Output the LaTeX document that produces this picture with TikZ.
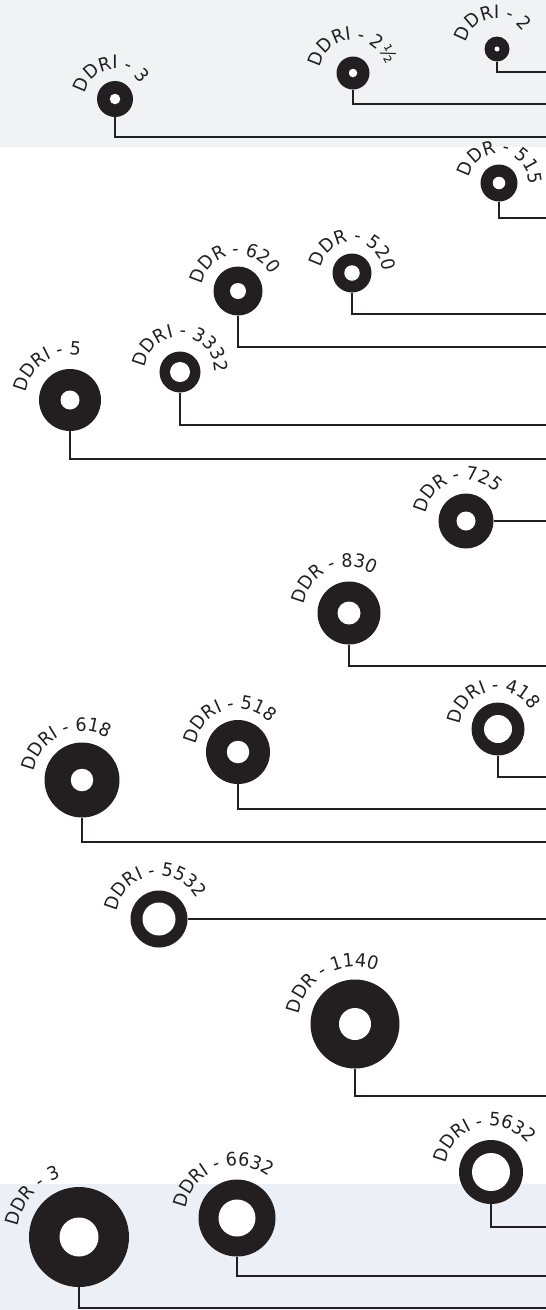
\documentclass[tikz,border=0pt]{standalone}
\usepackage{fontspec}
\newfontfamily\tagfont{DejaVu Sans}[FakeStretch=0.95]
\usetikzlibrary{decorations.text}
\definecolor{ink}{HTML}{231F20}
\definecolor{topband}{HTML}{F1F2F4}
\definecolor{lowband}{HTML}{ECEFF6}

\begin{document}
\begin{tikzpicture}[x=1pt, y=1pt, ring/.style={circle, fill=ink, inner sep=0pt, minimum size=#1}, hole/.style={circle, fill=white, inner sep=0pt, minimum size=#1}, wire/.style={draw=ink, line width=2.1pt}, tag/.style={decorate, decoration={text along path, text color=ink, text={|\tagfont\fontsize{18.5}{18.5}\selectfont|#1}}}]
	% bands
	\fill[topband] (0,0) rectangle (546,-147);
	\fill[lowband] (0,-1184) rectangle (546,-1310);
	\useasboundingbox (0,0) rectangle (546,-1310);
	% rings
	\node[ring=36pt] (ddri3) at (115,-99) {};
	\node[hole=10.5pt] (ddri3h) at (ddri3) {};
	\node[ring=33pt] (ddri2h) at (353,-73) {};
	\node[hole=8.5pt] (ddri2hh) at (ddri2h) {};
	\node[ring=25pt] (ddri2) at (497,-49) {};
	\node[hole=5pt] (ddri2h2) at (ddri2) {};
	\node[ring=37pt] (ddr515) at (499,-183) {};
	\node[hole=12.5pt] (ddr515h) at (ddr515) {};
	\node[ring=39pt] (ddr520) at (352,-273) {};
	\node[hole=15.5pt] (ddr520h) at (ddr520) {};
	\node[ring=49pt] (ddr620) at (238,-291) {};
	\node[hole=16pt] (ddr620h) at (ddr620) {};
	\node[ring=41pt] (ddri3332) at (180,-372) {};
	\node[hole=20pt] (ddri3332h) at (ddri3332) {};
	\node[ring=62pt] (ddri5) at (70,-400) {};
	\node[hole=19pt] (ddri5h) at (ddri5) {};
	\node[ring=55pt] (ddr725) at (466,-521) {};
	\node[hole=19pt] (ddr725h) at (ddr725) {};
	\node[ring=63pt] (ddr830) at (349,-613) {};
	\node[hole=23pt] (ddr830h) at (ddr830) {};
	\node[ring=75pt] (ddri618) at (82,-780) {};
	\node[hole=22.5pt] (ddri618h) at (ddri618) {};
	\node[ring=64pt] (ddri518) at (238,-752) {};
	\node[hole=22.5pt] (ddri518h) at (ddri518) {};
	\node[ring=53pt] (ddri418) at (498,-729) {};
	\node[hole=28pt] (ddri418h) at (ddri418) {};
	\node[ring=57pt] (ddri5532) at (159,-919) {};
	\node[hole=33pt] (ddri5532h) at (ddri5532) {};
	\node[ring=89pt] (ddr1140) at (355,-1024) {};
	\node[hole=32pt] (ddr1140h) at (ddr1140) {};
	\node[ring=64pt] (ddri5632) at (491,-1172) {};
	\node[hole=38pt] (ddri5632h) at (ddri5632) {};
	\node[ring=77pt] (ddri6632) at (237,-1218) {};
	\node[hole=37pt] (ddri6632h) at (ddri6632) {};
	\node[ring=100pt] (ddr3) at (79,-1237) {};
	\node[hole=39pt] (ddr3h) at (ddr3) {};
	% labels
	\path[tag={DDRI - 3}] (ddri3) ++(170:30) arc[start angle=170, delta angle=-280, radius=30];
	\path[tag={DDRI - 2½}] (ddri2h) ++(170:33) arc[start angle=170, delta angle=-280, radius=33];
	\path[tag={DDRI - 2}] (ddri2) ++(168:31) arc[start angle=168, delta angle=-280, radius=31];
	\path[tag={DDR - 515}] (ddr515) ++(170:30) arc[start angle=170, delta angle=-280, radius=30];
	\path[tag={DDR - 520}] (ddr520) ++(170:31) arc[start angle=170, delta angle=-280, radius=31];
	\path[tag={DDR - 620}] (ddr620) ++(170:36) arc[start angle=170, delta angle=-280, radius=36];
	\path[tag={DDRI - 3332}] (ddri3332) ++(173:35) arc[start angle=173, delta angle=-280, radius=35];
	\path[tag={DDRI - 5}] (ddri5) ++(170:45) arc[start angle=170, delta angle=-280, radius=45];
	\path[tag={DDR - 725}] (ddr725) ++(170:41) arc[start angle=170, delta angle=-280, radius=41];
	\path[tag={DDR - 830}] (ddr830) ++(170:46) arc[start angle=170, delta angle=-280, radius=46];
	\path[tag={DDRI - 618}] (ddri618) ++(170:49) arc[start angle=170, delta angle=-280, radius=49];
	\path[tag={DDRI - 518}] (ddri518) ++(170:43) arc[start angle=170, delta angle=-280, radius=43];
	\path[tag={DDRI - 418}] (ddri418) ++(174:38) arc[start angle=174, delta angle=-280, radius=38];
	\path[tag={DDRI - 5532}] (ddri5532) ++(170:43) arc[start angle=170, delta angle=-280, radius=43];
	\path[tag={DDR - 1140}] (ddr1140) ++(170:57) arc[start angle=170, delta angle=-280, radius=57];
	\path[tag={DDRI - 5632}] (ddri5632) ++(170:46) arc[start angle=170, delta angle=-280, radius=46];
	\path[tag={DDRI - 6632}] (ddri6632) ++(170:52) arc[start angle=170, delta angle=-280, radius=52];
	\path[tag={DDR - 3}] (ddr3) ++(170:62) arc[start angle=170, delta angle=-280, radius=62];
	% ends at the right edge
	\coordinate (e2) at (546,-72);
	\coordinate (e2h) at (546,-104);
	\coordinate (e3) at (546,-137);
	\coordinate (e515) at (546,-218);
	\coordinate (e520) at (546,-314);
	\coordinate (e620) at (546,-347);
	\coordinate (e3332) at (546,-425);
	\coordinate (e5) at (546,-459);
	\coordinate (e725) at (546,-521);
	\coordinate (e830) at (546,-666);
	\coordinate (e418) at (546,-777);
	\coordinate (e518) at (546,-809);
	\coordinate (e618) at (546,-842);
	\coordinate (e5532) at (546,-919);
	\coordinate (e1140) at (546,-1096);
	\coordinate (e5632) at (546,-1227);
	\coordinate (e6632) at (546,-1276);
	\coordinate (e3r) at (546,-1308);
	% connectors
	\draw[wire] (ddri2.south) |- (e2);
	\draw[wire] (ddri2h.south) |- (e2h);
	\draw[wire] (ddri3.south) |- (e3);
	\draw[wire] (ddr515.south) |- (e515);
	\draw[wire] (ddr520.south) |- (e520);
	\draw[wire] (ddr620.south) |- (e620);
	\draw[wire] (ddri3332.south) |- (e3332);
	\draw[wire] (ddri5.south) |- (e5);
	\draw[wire] (ddr725.east) -- (e725);
	\draw[wire] (ddr830.south) |- (e830);
	\draw[wire] (ddri418.south) |- (e418);
	\draw[wire] (ddri518.south) |- (e518);
	\draw[wire] (ddri618.south) |- (e618);
	\draw[wire] (ddri5532.east) -- (e5532);
	\draw[wire] (ddr1140.south) |- (e1140);
	\draw[wire] (ddri5632.south) |- (e5632);
	\draw[wire] (ddri6632.south) |- (e6632);
	\draw[wire] (ddr3.south) |- (e3r);
\end{tikzpicture}
\end{document}
